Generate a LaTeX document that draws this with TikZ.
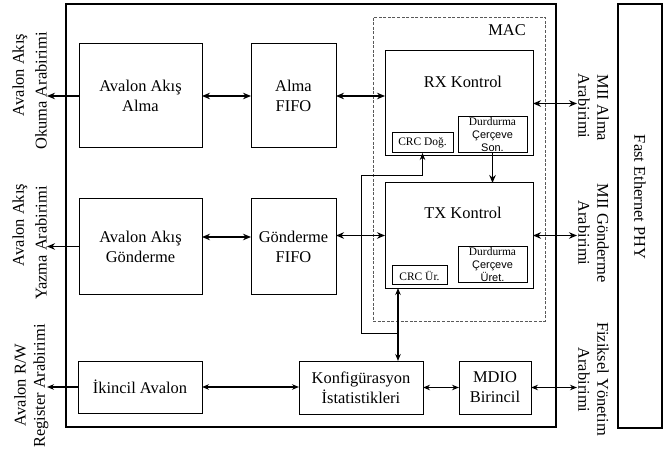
\documentclass[tikz,border=0pt]{standalone}
\usepackage{fontspec}
\setmainfont{Liberation Serif}
\newfontfamily\arialf{Liberation Sans}
\usetikzlibrary{arrows.meta}
\tikzset{
  box/.style={draw, line width=1bp, inner sep=0pt, outer sep=0pt, align=center,
    font=\fontsize{16.5}{20}\selectfont},
  sbox/.style={draw, line width=1bp, inner sep=0pt, outer sep=0pt, align=center,
    font=\fontsize{11.5}{13}\selectfont},
  txt/.style={inner sep=0pt, align=center, font=\fontsize{16.5}{20}\selectfont},
  macbox/.style={draw=black!65, line width=0.9bp, dash pattern=on 3bp off 1.6bp, inner sep=0pt},
  thickar/.style={line width=1.7bp, {Stealth[length=8bp,width=6.5bp]}-{Stealth[length=8bp,width=6.5bp]}},
  thickone/.style={line width=1.7bp, -{Stealth[length=8bp,width=6.5bp]}},
  thinar/.style={line width=1.1bp, {Stealth[length=7bp,width=5.5bp]}-{Stealth[length=7bp,width=5.5bp]}},
  thinone/.style={line width=1.1bp, -{Stealth[length=7bp,width=5.5bp]}},
}
\begin{document}
\begin{tikzpicture}[x=1bp,y=-1bp]
\useasboundingbox (0,0) rectangle (668,454);
% outer frame and PHY
\node[draw, line width=1.8bp, inner sep=0pt, minimum width=490bp, minimum height=423bp] (outer) at (311,215.5) {};
\node[draw, line width=1.2bp, inner sep=0pt, minimum width=44bp, minimum height=424bp] (phy) at (640,216) {};
\node[txt, rotate=-90] (phyt) at (640,197) {Fast Ethernet PHY};
% MAC
\node[macbox, minimum width=172bp, minimum height=304bp] (mac) at (459,169) {};
\node[txt] (mact) at (507,30) {MAC};
% row 1
\node[box, minimum width=123bp, minimum height=104bp] (avrx) at (140.5,96) {Avalon Akış\\Alma};
\node[box, minimum width=85bp, minimum height=104bp] (rxfifo) at (293.5,96) {Alma\\FIFO};
\node[box, minimum width=148bp, minimum height=105bp] (rx) at (459,103.5) {};
\node[txt] (rxt) at (463,82) {RX Kontrol};
\node[sbox, minimum width=61bp, minimum height=20bp] (crcd) at (422.5,143) {CRC Doğ.};
\node[sbox, minimum width=69bp, minimum height=36bp] (durs) at (492.5,135) {};
\node[inner sep=0pt, align=center, font=\fontsize{11.5}{13}\selectfont] (durst) at (492.5,134.5) {Durdurma\\{\arialf\fontsize{11}{13}\selectfont Çerçeve}\\{\arialf\fontsize{11}{13}\selectfont Son.}};
% row 2
\node[box, minimum width=123bp, minimum height=95bp] (avtx) at (140.5,246.5) {Avalon Akış\\Gönderme};
\node[box, minimum width=85bp, minimum height=95bp] (txfifo) at (293.5,246.5) {Gönderme\\FIFO};
\node[box, minimum width=148bp, minimum height=105bp] (tx) at (459,235.5) {};
\node[txt] (txt1) at (463,213) {TX Kontrol};
\node[sbox, minimum width=55bp, minimum height=19bp] (crcu) at (419.5,275.5) {CRC Ür.};
\node[sbox, minimum width=69bp, minimum height=36bp] (duru) at (492.5,265) {};
\node[inner sep=0pt, align=center, font=\fontsize{11.5}{13}\selectfont] (durut) at (492.5,264.5) {Durdurma\\{\arialf\fontsize{11}{13}\selectfont Çerçeve}\\{\arialf\fontsize{11}{13}\selectfont Üret.}};
% row 3
\node[box, minimum width=124bp, minimum height=52bp] (ikin) at (140,387) {İkincil Avalon};
\node[box, minimum width=124bp, minimum height=53bp] (konf) at (361,387.5) {Konfigürasyon\\İstatistikleri};
\node[box, minimum width=72bp, minimum height=53bp] (mdio) at (495,387.5) {MDIO\\Birincil};
% side labels
\node[txt, rotate=90] (l1a) at (20,75) {Avalon Akış};
\node[txt, rotate=90] (l1b) at (41,91) {Okuma Arabirimi};
\node[txt, rotate=90] (l2a) at (20,225) {Avalon Akış};
\node[txt, rotate=90] (l2b) at (41,243) {Yazma Arabirimi};
\node[txt, rotate=90] (l3a) at (20,385) {Avalon R/W};
\node[txt, rotate=90] (l3b) at (41,386) {Register Arabirimi};
\node[txt, rotate=-90] (r1a) at (603,108) {MII Alma};
\node[txt, rotate=-90] (r1b) at (584,106) {Arabirimi};
\node[txt, rotate=-90] (r2a) at (603,233) {MII Gönderme};
\node[txt, rotate=-90] (r2b) at (584,233) {Arabirimi};
\node[txt, rotate=-90] (r3a) at (603,379) {Fiziksel Yönetim};
\node[txt, rotate=-90] (r3b) at (584,380) {Arabirimi};
% free ends
\coordinate (e1) at (47,96);
\coordinate (e2) at (47,246.5);
\coordinate (e3) at (47,387);
\coordinate (m1) at (577,103.5);
\coordinate (m2) at (577,235.5);
\coordinate (m3) at (577,387.5);
\coordinate (vx) at (398,0);
\coordinate (hx) at (361,0);
% connectors
\draw[thickone] (avrx.west) -- (e1);
\draw[thickar] (avrx.east) -- (rxfifo.west);
\draw[thickar] (rxfifo.east) -- (rxfifo.east -| rx.west);
\draw[thickar] (rx.east) -- (m1);
\draw[thickone] (durs.south) -- (durs.south |- tx.north);
\draw[thickone] (avtx.west) -- (e2);
\draw[thickar] (avtx.east |- 0,237) -- (txfifo.west |- 0,237);
\draw[thickar] (txfifo.east |- tx.west) -- (tx.west);
\draw[thickar] (tx.east) -- (m2);
\draw[thinone] (ikin.west) -- (e3);
\draw[thinar] (ikin.east) -- (ikin.east -| konf.west);
\draw[thinar] (konf.east) -- (konf.east -| mdio.west);
\draw[thinar] (mdio.east) -- (m3);
\draw[thinar] (vx |- tx.south) -- (vx |- konf.north);
\draw[line width=1bp, -{Stealth[length=7bp,width=5.5bp]}] (vx |- 0,333) -- (hx |- 0,333) -- (hx |- 0,176) -| (crcd.south);
\end{tikzpicture}
\end{document}
